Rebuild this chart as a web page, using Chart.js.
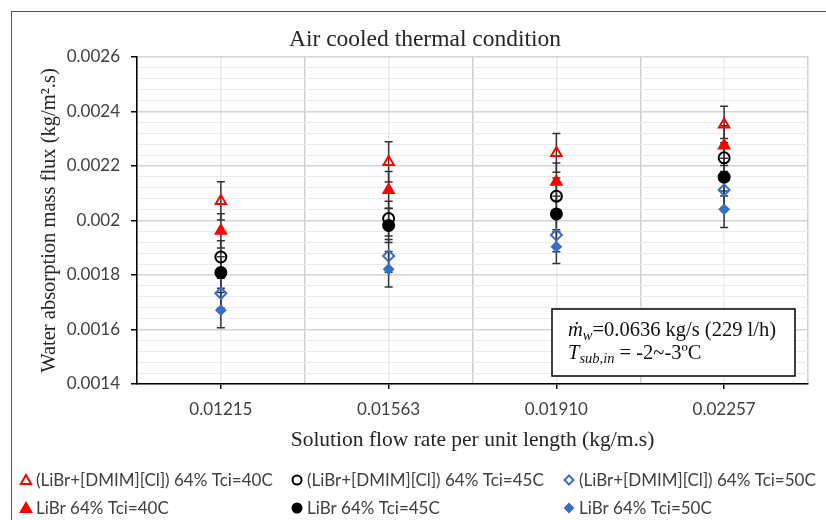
<!DOCTYPE html>
<html>
<head>
<meta charset="utf-8">
<script src="https://cdn.jsdelivr.net/npm/chart.js@4.4.1/dist/chart.umd.min.js"></script>
<style>
  body { margin: 0; background: #fff; }
  #wrap { width: 826px; height: 520px; position: relative; }
</style>
</head>
<body>
<div id="wrap"><canvas id="graph"></canvas></div>
<script>
// categories (solution flow rate per unit length, kg/m.s)
const categories = ['0.01215', '0.01563', '0.01910', '0.02257'];
const yTickLabels = ['0.0014', '0.0016', '0.0018', '0.002', '0.0022', '0.0024', '0.0026'];

const seriesNames = [
  '(LiBr+[DMIM][Cl]) 64% Tci=40C',
  '(LiBr+[DMIM][Cl]) 64% Tci=45C',
  '(LiBr+[DMIM][Cl]) 64% Tci=50C',
  'LiBr 64% Tci=40C',
  'LiBr 64% Tci=45C',
  'LiBr 64% Tci=50C'
];

// water absorption mass flux, kg/m2.s
const mix40 = [0.002072, 0.002215, 0.002248, 0.002352];
const mix45 = [0.001866, 0.002007, 0.002089, 0.002230];
const mix50 = [0.001733, 0.001870, 0.001947, 0.002112];
const libr40 = [0.001962, 0.002112, 0.002142, 0.002275];
const libr45 = [0.001809, 0.001982, 0.002024, 0.002159];
const libr50 = [0.001671, 0.001821, 0.001904, 0.002041];

// error bar half heights
const mix40Err = [0.000070, 0.000074, 0.000071, 0.000067];
const mix45Err = [0.000060, 0.000064, 0.000067, 0.000071];
const mix50Err = [0.000055, 0.000060, 0.000062, 0.000068];
const libr40Err = [0.000063, 0.000068, 0.000069, 0.000073];
const libr45Err = [0.000058, 0.000063, 0.000065, 0.000069];
const libr50Err = [0.000065, 0.000065, 0.000062, 0.000067];

const RED = '#ff0000', BLACK = '#000000', BLUE = '#3b6fc6';

function pts(vals) {
  return vals.map((v, i) => ({ x: i + 1, y: v }));
}

function makeSet(label, vals, errs, style, color, filled, r) {
  return {
    label: label,
    data: pts(vals),
    errors: errs,
    pointStyle: style,
    pointRadius: r,
    pointHoverRadius: r,
    pointBorderWidth: 2,
    pointBorderColor: color,
    pointBackgroundColor: filled ? color : 'rgba(0,0,0,0)',
    showLine: false
  };
}

const datasets = [
  makeSet(seriesNames[0], mix40, mix40Err, 'triangle', RED, false, 6),
  makeSet(seriesNames[1], mix45, mix45Err, 'circle', BLACK, false, 5.5),
  makeSet(seriesNames[2], mix50, mix50Err, 'rectRot', BLUE, false, 5.5),
  makeSet(seriesNames[3], libr40, libr40Err, 'triangle', RED, true, 6),
  makeSet(seriesNames[4], libr45, libr45Err, 'circle', BLACK, true, 5.5),
  makeSet(seriesNames[5], libr50, libr50Err, 'rectRot', BLUE, true, 4.5)
];

// outer frame + chart title
const frame = {
  id: 'frame',
  beforeDraw(chart) {
    const ctx = chart.ctx;
    ctx.save();
    ctx.strokeStyle = '#555';
    ctx.lineWidth = 1;
    ctx.strokeRect(11.5, 11.5, 900, 600);
    ctx.fillStyle = '#262626';
    ctx.font = '23.5px "Liberation Serif"';
    ctx.textAlign = 'center';
    ctx.textBaseline = 'middle';
    ctx.fillText('Air cooled thermal condition', 425, 40);
    ctx.restore();
  }
};

const errorBars = {
  id: 'errorBars',
  beforeDatasetsDraw(chart) {
    const ctx = chart.ctx;
    const xs = chart.scales.x, ys = chart.scales.y;
    ctx.save();
    ctx.strokeStyle = '#333';
    ctx.lineWidth = 1.5;
    chart.data.datasets.forEach(ds => {
      ds.data.forEach((p, i) => {
        const e = ds.errors[i];
        const x = xs.getPixelForValue(p.x);
        const y1 = ys.getPixelForValue(p.y + e);
        const y2 = ys.getPixelForValue(p.y - e);
        ctx.beginPath();
        ctx.moveTo(x, y1); ctx.lineTo(x, y2);
        ctx.moveTo(x - 4, y1); ctx.lineTo(x + 4, y1);
        ctx.moveTo(x - 4, y2); ctx.lineTo(x + 4, y2);
        ctx.stroke();
      });
    });
    ctx.restore();
  }
};

function marker(ctx, style, x, y, r, color, filled) {
  ctx.beginPath();
  if (style === 'triangle') {
    ctx.moveTo(x, y - r);
    ctx.lineTo(x + r * 0.866, y + r * 0.5);
    ctx.lineTo(x - r * 0.866, y + r * 0.5);
    ctx.closePath();
  } else if (style === 'circle') {
    ctx.arc(x, y, r, 0, Math.PI * 2);
  } else {
    ctx.moveTo(x, y - r); ctx.lineTo(x + r, y); ctx.lineTo(x, y + r); ctx.lineTo(x - r, y);
    ctx.closePath();
  }
  if (filled) { ctx.fillStyle = color; ctx.fill(); }
  ctx.lineWidth = 2;
  ctx.strokeStyle = color;
  ctx.stroke();
}

// legend in 2 rows x 3 columns
const gridLegend = {
  id: 'gridLegend',
  afterDraw(chart) {
    const ctx = chart.ctx;
    const colX = [26, 297, 569];
    const rowY = [480, 508];
    ctx.save();
    ctx.font = '17px Lato';
    ctx.textBaseline = 'middle';
    chart.data.datasets.forEach((ds, i) => {
      const x = colX[i % 3], y = rowY[Math.floor(i / 3)];
      const filled = ds.pointBackgroundColor !== 'rgba(0,0,0,0)';
      const r = ds.pointStyle === 'triangle' ? 6 : (ds.pointStyle === 'circle' ? 4.5 : (filled ? 4 : 4.5));
      marker(ctx, ds.pointStyle, x, y + (ds.pointStyle === 'triangle' ? 1 : 0), r, ds.pointBorderColor, filled);
      ctx.fillStyle = '#404040';
      ctx.fillText(ds.label, x + 10, y + 1);
    });
    ctx.restore();
  }
};

// text box with test conditions
const noteBox = {
  id: 'noteBox',
  afterDraw(chart) {
    const ctx = chart.ctx;
    ctx.save();
    ctx.fillStyle = '#fff';
    ctx.fillRect(552, 309, 243, 67);
    ctx.strokeStyle = '#000';
    ctx.lineWidth = 1.5;
    ctx.strokeRect(552, 309, 243, 67);
    ctx.fillStyle = '#111';
    ctx.textBaseline = 'alphabetic';
    let x = 568;
    const run = (t, font, dy) => {
      ctx.font = font;
      ctx.fillText(t, x, dy);
      x += ctx.measureText(t).width;
    };
    run('\u1E41', 'italic 20.5px "Liberation Serif"', 336);
    run('w', 'italic 14.5px "Liberation Serif"', 340);
    run('=0.0636 kg/s (229 l/h)', '20.5px "Liberation Serif"', 336);
    x = 568;
    run('T', 'italic 20.5px "Liberation Serif"', 359);
    run('sub,in', 'italic 14.5px "Liberation Serif"', 363);
    run(' = -2~-3\u00BAC', '20.5px "Liberation Serif"', 359);
    ctx.restore();
  }
};

function isMajorY(i) { return i % 5 === 0; }

new Chart(document.getElementById('graph'), {
  type: 'scatter',
  data: { datasets: datasets },
  options: {
    responsive: true,
    maintainAspectRatio: false,
    animation: false,
    layout: { padding: { left: 12, right: 18, top: 57, bottom: 60 } },
    plugins: {
      legend: { display: false },
      tooltip: { enabled: false },
      title: { display: false }
    },
    scales: {
      x: {
        type: 'linear',
        min: 0.5,
        max: 4.5,
        afterBuildTicks: scale => {
          const t = [];
          for (let i = 0; i <= categories.length * 2; i++) t.push({ value: 0.5 + i * 0.5 });
          scale.ticks = t;
        },
        afterFit: scale => { scale.height = 76; },
        ticks: {
          autoSkip: false,
          maxRotation: 0,
          padding: 10,
          color: '#404040',
          font: { family: 'Lato', size: 17 },
          callback: (v, i) => (i % 2 === 1 ? categories[(i - 1) / 2] : '')
        },
        grid: {
          color: c => (c.index % 2 === 0 ? '#d0d0d0' : '#ebebeb'),
          lineWidth: 1.5,
          tickLength: 5,
          tickWidth: 1.5,
          tickColor: c => (c.index % 2 === 1 ? '#000' : 'rgba(0,0,0,0)')
        },
        border: { display: true, color: '#000', width: 1.5 },
        title: {
          display: true,
          text: 'Solution flow rate per unit length (kg/m.s)',
          color: '#262626',
          font: { family: 'Liberation Serif', size: 21.5 },
          padding: { top: 0, bottom: 7 }
        }
      },
      y: {
        type: 'linear',
        min: 0.0014,
        max: 0.0026,
        afterBuildTicks: scale => {
          const t = [];
          for (let i = 0; i <= 30; i++) t.push({ value: 0.0014 + i * 0.00004 });
          scale.ticks = t;
        },
        afterFit: scale => { scale.width = 125; },
        ticks: {
          autoSkip: false,
          padding: 11,
          color: '#404040',
          font: { family: 'Lato', size: 17 },
          callback: (v, i) => (isMajorY(i) ? yTickLabels[i / 5] : '')
        },
        grid: {
          color: c => (isMajorY(c.index) ? '#d4d4d4' : '#ebebeb'),
          lineWidth: c => (isMajorY(c.index) ? 1.5 : 1),
          tickLength: 6,
          tickWidth: 1.5,
          tickColor: c => (isMajorY(c.index) ? '#000' : 'rgba(0,0,0,0)')
        },
        border: { display: true, color: '#000', width: 1.5 },
        title: {
          display: true,
          text: 'Water absorption mass flux (kg/m\u00B2.s)',
          color: '#262626',
          font: { family: 'Liberation Serif', size: 20.5 },
          padding: { top: 25, bottom: 0 }
        }
      }
    }
  },
  plugins: [frame, errorBars, gridLegend, noteBox]
});
</script>
</body>
</html>
